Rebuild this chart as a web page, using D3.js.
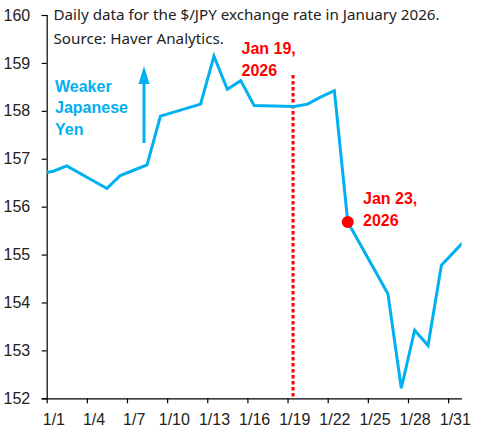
<!DOCTYPE html>
<html>
<head>
<meta charset="utf-8">
<script src="https://cdn.jsdelivr.net/npm/d3@7"></script>
<style>
  body { margin: 0; background: #fff; }
  svg { display: block; }
  .tick text { font-family: "Liberation Sans", Arial, sans-serif; font-size: 16px; fill: #222; }
  .note { font-family: "Noto Sans", sans-serif; font-size: 15.2px; fill: #222; }
  .bold { font-family: "Liberation Sans", Arial, sans-serif; font-weight: bold; font-size: 16px; }
</style>
</head>
<body>
<svg width="482" height="441"></svg>
<script>
// daily $/JPY closes (business days only)
const dates = ["2025-12-31", "2026-01-01", "2026-01-02", "2026-01-05", "2026-01-06", "2026-01-07",
  "2026-01-08", "2026-01-09", "2026-01-12", "2026-01-13", "2026-01-14", "2026-01-15",
  "2026-01-16", "2026-01-19", "2026-01-20", "2026-01-21", "2026-01-22", "2026-01-23",
  "2026-01-26", "2026-01-27", "2026-01-28", "2026-01-29", "2026-01-30", "2026-02-02"];
const rates = [156.69, 156.74, 156.85, 156.38, 156.65, 156.76,
  156.87, 157.89, 158.14, 159.14, 158.45, 158.63,
  158.11, 158.09, 158.14, 158.29, 158.42, 155.68,
  154.18, 152.21, 153.42, 153.10, 154.78, 155.66];
const yTicks = [152, 153, 154, 155, 156, 157, 158, 159, 160];
const xTickDays = [1, 4, 7, 10, 13, 16, 19, 22, 25, 28, 31];
const eventDay = "2026-01-19";
const dotDay = "2026-01-23";

const parse = d3.utcParse("%Y-%m-%d");
const halfDay = 12 * 3600 * 1000;
// Excel-style date axis: points sit in the middle of their day
const mid = s => new Date(parse(s).getTime() + halfDay);
const data = dates.map((d, i) => ({ date: mid(d), value: rates[i] }));

const svg = d3.select("svg");
const plotLeft = 46.7, plotRight = 461.5, plotTop = 15, plotBottom = 398.3;

const x = d3.scaleUtc()
  .domain([Date.UTC(2026, 0, 1), Date.UTC(2026, 1, 1)])
  .range([plotLeft, plotRight]);
const y = d3.scaleLinear().domain([152, 160]).range([plotBottom, plotTop]);

svg.append("defs").append("clipPath").attr("id", "plot")
  .append("rect").attr("x", plotLeft).attr("y", 0).attr("width", plotRight - plotLeft).attr("height", 441);

// y axis
svg.append("g")
  .attr("transform", `translate(${plotLeft},0)`)
  .call(d3.axisLeft(y).tickValues(yTicks).tickFormat(d3.format("d")).tickSize(5).tickPadding(11.5))
  .call(g => g.selectAll("path, line").attr("stroke", "#000").attr("stroke-width", 1.2));

// x axis: ticks at day starts, labels centred on the day
const xAxis = svg.append("g")
  .attr("transform", `translate(0,${plotBottom})`)
  .call(d3.axisBottom(x)
    .tickValues(xTickDays.map(d => new Date(Date.UTC(2026, 0, d))))
    .tickFormat(d3.utcFormat("%-m/%-d"))
    .tickSize(5).tickSizeOuter(0))
  .call(g => g.selectAll("path, line").attr("stroke", "#000").attr("stroke-width", 1.2));
xAxis.selectAll(".tick text")
  .attr("x", x(halfDay + Date.UTC(2026, 0, 1)) - plotLeft)
  .attr("y", 15);

// event line for Jan 19
svg.append("line")
  .attr("x1", x(mid(eventDay)) - 1.2).attr("x2", x(mid(eventDay)) - 1.2)
  .attr("y1", y(158.75)).attr("y2", plotBottom)
  .attr("stroke", "#ff0000").attr("stroke-width", 3)
  .attr("stroke-dasharray", "3.5,2.5");

// rate line
svg.append("path")
  .datum(data)
  .attr("clip-path", "url(#plot)")
  .attr("fill", "none")
  .attr("stroke", "#00b0f0")
  .attr("stroke-width", 3)
  .attr("stroke-linejoin", "miter")
  .attr("d", d3.line().x(d => x(d.date)).y(d => y(d.value)));

const dot = data.find(d => +d.date === +mid(dotDay));
svg.append("circle")
  .attr("cx", x(dot.date)).attr("cy", y(dot.value)).attr("r", 6)
  .attr("fill", "#ff0000");

// title notes
svg.append("text").attr("class", "note").attr("x", 53.5).attr("y", 19.5)
  .text("Daily data for the $/JPY exchange rate in January 2026.");
svg.append("text").attr("class", "note").attr("x", 53.5).attr("y", 43.5)
  .text("Source: Haver Analytics.");

// weaker yen label + arrow
const blue = svg.append("text").attr("class", "bold").attr("fill", "#00b0f0");
["Weaker", "Japanese", "Yen"].forEach((t, i) => {
  blue.append("tspan").attr("x", 55).attr("y", 91.5 + i * 21.8).text(t);
});
svg.append("line")
  .attr("x1", 144).attr("x2", 144).attr("y1", 143).attr("y2", 82)
  .attr("stroke", "#00b0f0").attr("stroke-width", 3);
svg.append("path")
  .attr("d", "M144,66 L149.5,84 L138.5,84 Z")
  .attr("fill", "#00b0f0");

// red date labels
const red1 = svg.append("text").attr("class", "bold").attr("fill", "#ff0000");
red1.append("tspan").attr("x", 241.5).attr("y", 53.5).text("Jan 19,");
red1.append("tspan").attr("x", 241.5).attr("y", 76).text("2026");
const red2 = svg.append("text").attr("class", "bold").attr("fill", "#ff0000");
red2.append("tspan").attr("x", 363).attr("y", 203.5).text("Jan 23,");
red2.append("tspan").attr("x", 363).attr("y", 226).text("2026");
</script>
</body>
</html>
